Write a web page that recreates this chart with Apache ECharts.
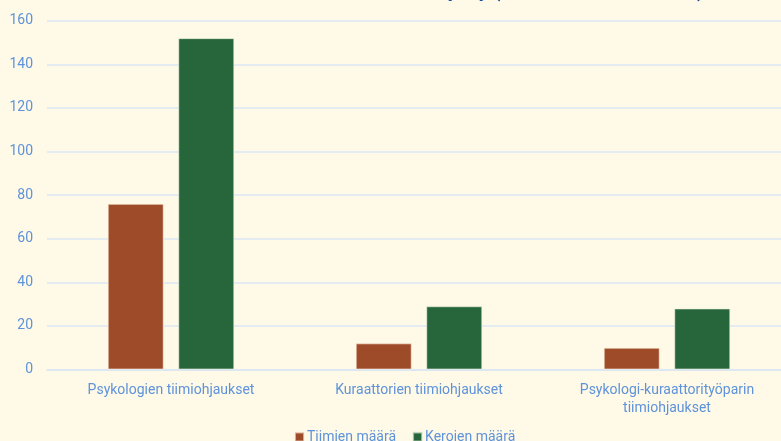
<!DOCTYPE html>
<html><head><meta charset="utf-8">
<script src="https://cdn.jsdelivr.net/npm/echarts@6/dist/echarts.min.js"></script>
<style>html,body{margin:0;padding:0;background:#FFF9E7}#c{width:781px;height:441px}</style>
</head><body><div id="c"></div>
<script>
const titleText = "Tiimien määrä sekä kerrat syksy (1.8.2023–31.12.2023)";
const categories = ["Psykologien tiimiohjaukset", "Kuraattorien tiimiohjaukset", "Psykologi-kuraattorityöparin\ntiimiohjaukset"];
const seriesNames = ["Tiimien määrä", "Kerojen määrä"];
const teams = [76, 12, 10];
const times = [152, 29, 28];
const yTicks = {min: 0, max: 160, interval: 20};

const labelColor = "#5E93DA";
const chart = echarts.init(document.getElementById('c'), null, {renderer: 'canvas'});
chart.setOption({
  backgroundColor: "#FFF9E7",
  animation: false,
  textStyle: {fontFamily: "Roboto"},
  title: {
    text: titleText, right: 72, top: -23,
    textStyle: {color: "#1F4E9C", fontSize: 20, fontWeight: "bold", fontFamily: "Roboto"}
  },
  legend: {
    left: 289, top: 425, itemWidth: 9, itemHeight: 9, itemGap: 16,
    icon: "rect",
    textStyle: {color: labelColor, fontSize: 14, fontFamily: "Roboto", padding: [0,0,0,-2]},
    data: seriesNames
  },
  grid: {left: 47, top: 20.7, width: 744, height: 348.8, containLabel: false, outerBoundsMode: "none"},
  xAxis: {
    type: "category", data: categories,
    axisTick: {show: false},
    axisLine: {lineStyle: {color: "#D9E5F3", width: 1.5}},
    axisLabel: {color: labelColor, fontSize: 14, margin: 12, lineHeight: 18, interval: 0}
  },
  yAxis: {
    type: "value", min: yTicks.min, max: yTicks.max, interval: yTicks.interval,
    axisLine: {show: false}, axisTick: {show: false},
    splitLine: {lineStyle: {color: "#DCE7F4", width: 1.5}},
    axisLabel: {color: labelColor, fontSize: 14, margin: 14}
  },
  series: [
    {name: seriesNames[0], type: "bar", data: teams, barWidth: 56, barGap: "26%",
     itemStyle: {color: "#9E4B29", borderColor: "rgba(255,240,220,0.6)", borderWidth: 1}},
    {name: seriesNames[1], type: "bar", data: times, barWidth: 56,
     itemStyle: {color: "#27663A", borderColor: "rgba(230,240,220,0.6)", borderWidth: 1}}
  ]
});
</script></body></html>
